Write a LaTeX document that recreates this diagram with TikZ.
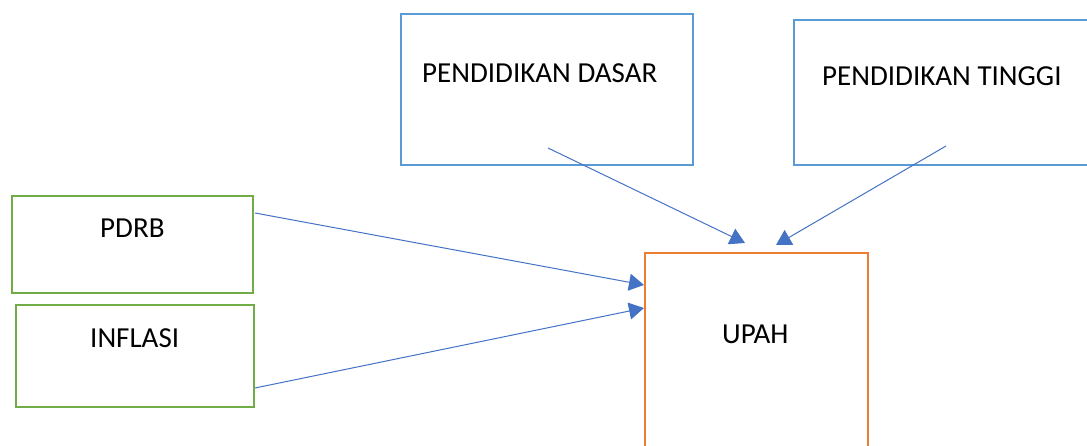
\documentclass[tikz,border=0pt]{standalone}
\usepackage{fontspec}
\setmainfont{Carlito}
\usetikzlibrary{arrows.meta}
\definecolor{boxblue}{HTML}{5B9BD5}
\definecolor{boxgreen}{HTML}{70AD47}
\definecolor{boxorange}{HTML}{ED7D31}
\definecolor{linkblue}{HTML}{4472C4}
\begin{document}
\begin{tikzpicture}[x=1pt,y=-1pt,
  box/.style={draw, line width=2pt, inner sep=0pt, anchor=north west},
  lbl/.style={anchor=base west, inner sep=0pt, font=\fontsize{29}{34}\selectfont},
  link/.style={draw=linkblue, line width=1pt, -{Triangle[length=15pt,width=17pt]}, linkblue}]
\useasboundingbox (0,0) rectangle (1087,446);
\fill[white] (0,0) rectangle (1087,446);
\begin{scope}
\clip (0,0) rectangle (1087,446);
% source boxes
\node[box, draw=boxblue, minimum width=292pt, minimum height=151pt] (pd) at (400,13) {};
\node[box, draw=boxblue, minimum width=330pt, minimum height=145pt] (pt) at (793,19) {};
\node[box, draw=boxgreen, minimum width=241pt, minimum height=97pt] (pdrb) at (11,195) {};
\node[box, draw=boxgreen, minimum width=238pt, minimum height=102pt] (inf) at (15,304) {};
% target box
\node[box, draw=boxorange, minimum width=223pt, minimum height=240pt] (upah) at (644,252) {};
% labels
\node[lbl] (pdL) at (422,83) {PENDIDIKAN DASAR};
\node[lbl] (ptL) at (822,86) {PENDIDIKAN TINGGI};
\node[lbl] (pdrbL) at (100,238) {PDRB};
\node[lbl] (infL) at (90,348) {INFLASI};
\node[lbl] (upahL) at (722,344) {UPAH};
% connector ends
\coordinate (pdOut) at (548,148);
\coordinate (ptOut) at (946,146);
\coordinate (pdrbOut) at (255,213);
\coordinate (infOut) at (255,388);
\coordinate (upahA) at (745,243);
\coordinate (upahB) at (776,245);
\coordinate (upahC) at (644,285);
\coordinate (upahD) at (644,308);
\draw[link] (pdOut) -- (upahA);
\draw[link] (ptOut) -- (upahB);
\draw[link] (pdrbOut) -- (upahC);
\draw[link] (infOut) -- (upahD);
\end{scope}
\end{tikzpicture}
\end{document}
